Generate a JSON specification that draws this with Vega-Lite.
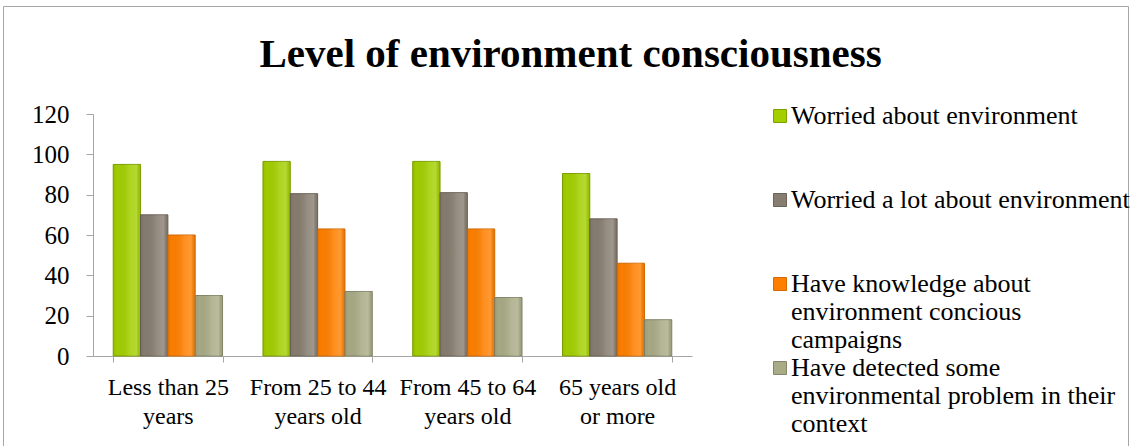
{
  "$schema": "https://vega.github.io/schema/vega-lite/v6.json",
  "width": 1125,
  "height": 441,
  "autosize": "none",
  "padding": {"left": 3, "top": 6, "right": 3, "bottom": 0},
  "background": "white",
  "config": {
    "view": {"stroke": "#a6a6a6", "strokeWidth": 1},
    "font": "Liberation Serif",
    "legend": {"labelFont": "Liberation Serif"}
  },
  "title": {
    "text": "Level of environment consciousness",
    "font": "Liberation Serif",
    "fontSize": 41,
    "fontWeight": "bold",
    "color": "black",
    "anchor": "middle",
    "frame": "group",
    "baseline": "alphabetic",
    "offset": -62,
    "dx": 5,
    "dy": 40
  },
  "data": {
    "values": [
      {"age": "Less than 25\nyears", "series": "Worried about environment", "value": 95},
      {"age": "Less than 25\nyears", "series": "Worried a lot about environment", "value": 70},
      {"age": "Less than 25\nyears", "series": "Have knowledge about\nenvironment concious\ncampaigns", "value": 60},
      {"age": "Less than 25\nyears", "series": "Have detected some\nenvironmental problem in their\ncontext", "value": 30},
      {"age": "From 25 to 44\nyears old", "series": "Worried about environment", "value": 96.5},
      {"age": "From 25 to 44\nyears old", "series": "Worried a lot about environment", "value": 80.5},
      {"age": "From 25 to 44\nyears old", "series": "Have knowledge about\nenvironment concious\ncampaigns", "value": 63},
      {"age": "From 25 to 44\nyears old", "series": "Have detected some\nenvironmental problem in their\ncontext", "value": 32},
      {"age": "From 45 to 64\nyears old", "series": "Worried about environment", "value": 96.5},
      {"age": "From 45 to 64\nyears old", "series": "Worried a lot about environment", "value": 81},
      {"age": "From 45 to 64\nyears old", "series": "Have knowledge about\nenvironment concious\ncampaigns", "value": 63},
      {"age": "From 45 to 64\nyears old", "series": "Have detected some\nenvironmental problem in their\ncontext", "value": 29},
      {"age": "65 years old\nor more", "series": "Worried about environment", "value": 90.5},
      {"age": "65 years old\nor more", "series": "Worried a lot about environment", "value": 68},
      {"age": "65 years old\nor more", "series": "Have knowledge about\nenvironment concious\ncampaigns", "value": 46},
      {"age": "65 years old\nor more", "series": "Have detected some\nenvironmental problem in their\ncontext", "value": 18}
    ]
  },
  "encoding": {
    "x": {
      "field": "age",
      "type": "nominal",
      "sort": null,
      "title": null,
      "scale": {"range": [90, 689], "paddingInner": 0.27, "paddingOuter": 0.135},
      "axis": {
        "offset": -91,
        "labelAngle": 0,
        "labelExpr": "split(datum.label, '\\n')",
        "labelFont": "Liberation Serif",
        "labelFontSize": 24,
        "labelLineHeight": 29,
        "labelColor": "black",
        "labelPadding": 13,
        "labelLimit": 0,
        "labelBaseline": "top",
        "tickBand": "extent",
        "tickSize": 6,
        "tickColor": "#a6a6a6",
        "domainColor": "#a6a6a6",
        "grid": false
      }
    },
    "xOffset": {
      "field": "series",
      "type": "nominal",
      "sort": null
    },
    "y": {
      "field": "value",
      "type": "quantitative",
      "title": null,
      "scale": {"domain": [0, 120], "range": [350, 108], "nice": false},
      "axis": {
        "offset": -90,
        "values": [0, 20, 40, 60, 80, 100, 120],
        "labelFont": "Liberation Serif",
        "labelFontSize": 25,
        "labelColor": "black",
        "labelPadding": 17,
        "tickSize": 7,
        "tickColor": "#a6a6a6",
        "domainColor": "#a6a6a6",
        "grid": false
      }
    }
  },
  "layer": [
    {
      "mark": {"type": "bar", "strokeWidth": 1},
      "encoding": {
        "fill": {
          "field": "series",
          "type": "nominal",
          "sort": null,
          "scale": {"range": ["#a3cf00", "#877d70", "#ff8000", "#a9ab86"]},
          "legend": {
            "title": null,
            "orient": "none",
            "legendX": 764,
            "legendY": 97,
            "symbolType": "square",
            "symbolSize": 169,
            "symbolStrokeWidth": 1,
            "labelFont": "Liberation Serif",
            "labelFontSize": 26,
            "labelColor": "black",
            "labelOffset": -2,
            "labelLimit": 0,
            "labelExpr": "split(datum.label, '\\n')",
            "labelBaseline": "middle",
            "gridAlign": "all",
            "rowPadding": 2
          }
        },
        "stroke": {
          "field": "series",
          "type": "nominal",
          "sort": null,
          "scale": {"range": ["#7ea000", "#6a6256", "#d66a00", "#85876a"]},
          "legend": null
        }
      }
    },
    {
      "mark": {
        "type": "bar",
        "strokeWidth": 0,
        "color": {
          "gradient": "linear",
          "x1": 0, "x2": 1, "y1": 0, "y2": 0,
          "stops": [
            {"offset": 0, "color": "rgba(0,0,0,0.08)"},
            {"offset": 0.15, "color": "rgba(0,0,0,0.02)"},
            {"offset": 0.6, "color": "rgba(255,255,255,0.12)"},
            {"offset": 0.85, "color": "rgba(255,255,255,0.2)"},
            {"offset": 1, "color": "rgba(0,0,0,0.06)"}
          ]
        }
      },
      "encoding": {}
    }
  ]
}
